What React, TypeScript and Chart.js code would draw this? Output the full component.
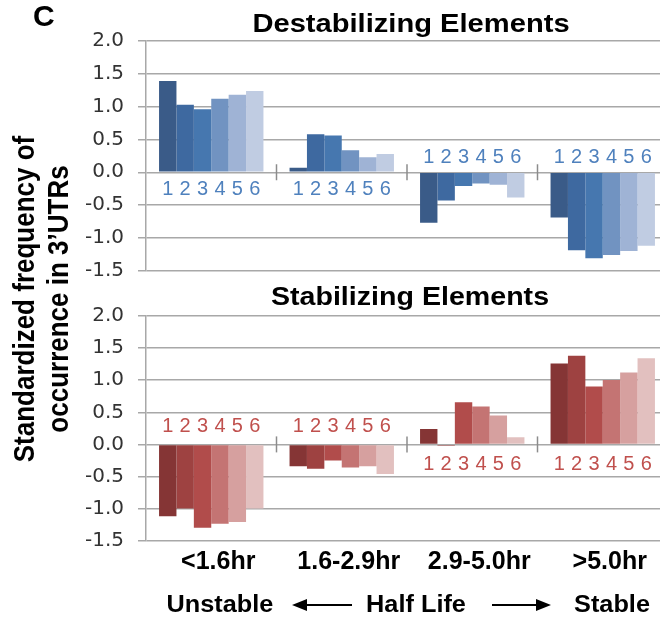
import React, { useEffect, useRef } from 'react';
import { Chart, registerables } from 'chart.js';

Chart.register(...registerables);

// ---------- data ----------
const categories = ['<1.6hr', '1.6-2.9hr', '2.9-5.0hr', '>5.0hr'];
const elementLabels = ['1', '2', '3', '4', '5', '6'];

// Destabilizing elements: one array per element (1..6), values per half-life class
const destab1 = [1.39, 0.07, -0.77, -0.69];
const destab2 = [1.03, 0.58, -0.43, -1.19];
const destab3 = [0.96, 0.56, -0.21, -1.31];
const destab4 = [1.12, 0.335, -0.17, -1.26];
const destab5 = [1.18, 0.23, -0.19, -1.2];
const destab6 = [1.24, 0.28, -0.385, -1.12];

// Stabilizing elements
const stab1 = [-1.12, -0.34, 0.24, 1.26];
const stab2 = [-1.0, -0.38, -0.02, 1.38];
const stab3 = [-1.3, -0.25, 0.655, 0.9];
const stab4 = [-1.235, -0.36, 0.59, 1.005];
const stab5 = [-1.21, -0.34, 0.45, 1.12];
const stab6 = [-1.0, -0.46, 0.11, 1.34];

const destabSeries = [destab1, destab2, destab3, destab4, destab5, destab6];
const stabSeries = [stab1, stab2, stab3, stab4, stab5, stab6];

// where the element numbers sit relative to the zero line, per category
const destabLabelSide = ['below', 'below', 'above', 'above'];
const stabLabelSide = ['above', 'above', 'below', 'below'];

const yMin = -1.5;
const yMax = 2.0;
const yStep = 0.5;

// ---------- styles ----------
const blueShades = ['#3a5b88', '#3e69a0', '#4677af', '#7193c1', '#9fb3d5', '#c0cce2'];
const redShades = ['#853535', '#9e4241', '#b14c4b', '#c47473', '#d6a09f', '#e2c0bf'];
const gridColor = '#a8a8a8';
const SANS = '"Liberation Sans", Arial, Helvetica, sans-serif';

type PanelProps = {
  series: number[][];
  colors: string[];
  numberColor: string;
  sides: string[];
  aboveOffset: number;
  belowOffset: number;
  showX: boolean;
  top: number;
  height: number;
  padTop: number;
  padBottom: number;
};

function BarPanel(p: PanelProps) {
  const ref = useRef<HTMLCanvasElement | null>(null);
  useEffect(() => {
    if (!ref.current) return;
    const numberPlugin = {
      id: 'elementNumbers',
      afterDatasetsDraw(chart: any) {
        const ctx = chart.ctx;
        const ys = chart.scales.y;
        const xs = chart.scales.x;
        const y0 = ys.getPixelForValue(0);
        ctx.save();
        // separators between groups on the zero line
        ctx.strokeStyle = '#8c8c8c';
        ctx.lineWidth = 1.5;
        for (let j = 1; j < categories.length; j++) {
          const x = (xs.getPixelForValue(j - 1) + xs.getPixelForValue(j)) / 2;
          ctx.beginPath();
          ctx.moveTo(x, y0 - 8);
          ctx.lineTo(x, y0 + 8);
          ctx.stroke();
        }
        const fs = 20;
        ctx.font = `${fs}px ${SANS}`;
        ctx.fillStyle = p.numberColor;
        ctx.textAlign = 'center';
        ctx.textBaseline = 'alphabetic';
        chart.data.datasets.forEach((ds: any, i: number) => {
          const meta = chart.getDatasetMeta(i);
          meta.data.forEach((bar: any, j: number) => {
            const cy = p.sides[j] === 'above' ? y0 - p.aboveOffset : y0 + p.belowOffset;
            ctx.fillText(ds.label, bar.x, cy + 0.358 * fs);
          });
        });
        ctx.restore();
      },
    };
    const chart = new Chart(ref.current, {
      type: 'bar',
      data: {
        labels: categories,
        datasets: p.series.map((d, i) => ({
          label: elementLabels[i],
          data: d,
          backgroundColor: p.colors[i],
          borderWidth: 0,
          categoryPercentage: 0.8,
          barPercentage: 1.0,
        })),
      },
      options: {
        animation: false,
        responsive: true,
        maintainAspectRatio: false,
        layout: { padding: { left: 0, right: 12, top: p.padTop, bottom: p.padBottom } },
        plugins: {
          legend: { display: false },
          tooltip: { enabled: false },
          title: { display: false },
        },
        scales: {
          x: {
            display: p.showX,
            grid: { display: false, drawTicks: false },
            border: { display: false },
            ticks: {
              font: { family: SANS, size: 25, weight: 'bold' },
              color: '#000',
              padding: 6,
              labelOffset: 7,
              autoSkip: false,
              maxRotation: 0,
              minRotation: 0,
            },
            afterFit: (s: any) => {
              s.height = p.showX ? 60 : 0;
            },
          },
          y: {
            min: yMin,
            max: yMax,
            afterFit: (s: any) => {
              s.width = 146;
            },
            ticks: {
              stepSize: yStep,
              autoSkip: false,
              callback: (v: any) => Number(v).toFixed(1),
              font: { family: '"DejaVu Sans", sans-serif', size: 20 },
              color: '#333333',
              padding: 14,
            },
            grid: { color: gridColor, lineWidth: 1.5, tickLength: 8, drawTicks: true },
            border: { display: true, color: gridColor, width: 1.5 },
          },
        },
      } as any,
      plugins: [numberPlugin],
    });
    return () => chart.destroy();
  }, []);
  return (
    <div style={{ position: 'absolute', left: 0, top: p.top, width: 680, height: p.height }}>
      <canvas ref={ref} />
    </div>
  );
}

function CenteredLabel(props: { x: number; y: number; size: number; text: string; sx?: number }) {
  const { x, y, size, text, sx = 1.1 } = props;
  return (
    <div style={{ position: 'absolute', left: x, top: y, width: 0, height: 0 }}>
      <div
        style={{
          position: 'absolute',
          left: 0,
          top: 0,
          fontFamily: SANS,
          fontWeight: 'bold',
          fontSize: size,
          lineHeight: `${size}px`,
          whiteSpace: 'nowrap',
          color: '#000',
          transform: `translate(-50%, -50%) scaleX(${sx})`,
        }}
      >
        {text}
      </div>
    </div>
  );
}

function Arrow(props: { x1: number; x2: number; y: number; dir: 'left' | 'right' }) {
  const { x1, x2, y, dir } = props;
  const head = 15;
  const half = 6;
  const lineStyle: React.CSSProperties = {
    position: 'absolute',
    top: y - 1,
    height: 2,
    background: '#000',
    left: dir === 'left' ? x1 + head - 1 : x1,
    width: x2 - x1 - head + 1,
  };
  const headStyle: React.CSSProperties =
    dir === 'left'
      ? {
          position: 'absolute',
          left: x1,
          top: y - half,
          width: 0,
          height: 0,
          borderTop: `${half}px solid transparent`,
          borderBottom: `${half}px solid transparent`,
          borderRight: `${head}px solid #000`,
        }
      : {
          position: 'absolute',
          left: x2 - head,
          top: y - half,
          width: 0,
          height: 0,
          borderTop: `${half}px solid transparent`,
          borderBottom: `${half}px solid transparent`,
          borderLeft: `${head}px solid #000`,
        };
  return (
    <>
      <div style={lineStyle} />
      <div style={headStyle} />
    </>
  );
}

export default function App() {
  return (
    <div
      style={{
        position: 'fixed',
        left: 0,
        top: 0,
        width: 660,
        height: 617,
        overflow: 'hidden',
        background: '#fff',
      }}
    >
      <BarPanel
        series={destabSeries}
        colors={blueShades}
        numberColor="#4f81bd"
        sides={destabLabelSide}
        aboveOffset={16}
        belowOffset={15.5}
        showX={false}
        top={0}
        height={302}
        padTop={41}
        padBottom={31.3}
      />
      <BarPanel
        series={stabSeries}
        colors={redShades}
        numberColor="#c0504d"
        sides={stabLabelSide}
        aboveOffset={19.5}
        belowOffset={18}
        showX={true}
        top={290}
        height={327}
        padTop={22.3}
        padBottom={16.3}
      />

      <div
        style={{
          position: 'absolute',
          left: 33,
          top: 1,
          fontFamily: SANS,
          fontWeight: 'bold',
          fontSize: 30,
          lineHeight: '30px',
        }}
      >
        C
      </div>

      <CenteredLabel x={411} y={22.5} size={26} text="Destabilizing Elements" sx={1.12} />
      <CenteredLabel x={410} y={295.5} size={26} text="Stabilizing Elements" sx={1.1} />

      {/* y-axis title */}
      <div style={{ position: 'absolute', left: 42, top: 299, width: 0, height: 0 }}>
        <div
          style={{
            position: 'absolute',
            left: 0,
            top: 0,
            fontFamily: SANS,
            fontWeight: 'bold',
            fontSize: 26,
            lineHeight: '31px',
            whiteSpace: 'nowrap',
            textAlign: 'center',
            color: '#000',
            transform: 'translate(-50%, -50%) rotate(-90deg) scaleY(1.1)',
          }}
        >
          Standardized frequency of
          <br />
          occurrence in 3’UTRs
        </div>
      </div>

      {/* bottom annotation row */}
      <CenteredLabel x={220} y={604} size={23} text="Unstable" />
      <Arrow x1={292} x2={352} y={605} dir="left" />
      <CenteredLabel x={416} y={604} size={23} text="Half Life" />
      <Arrow x1={492} x2={551} y={605} dir="right" />
      <CenteredLabel x={612} y={604} size={23} text="Stable" />
    </div>
  );
}
